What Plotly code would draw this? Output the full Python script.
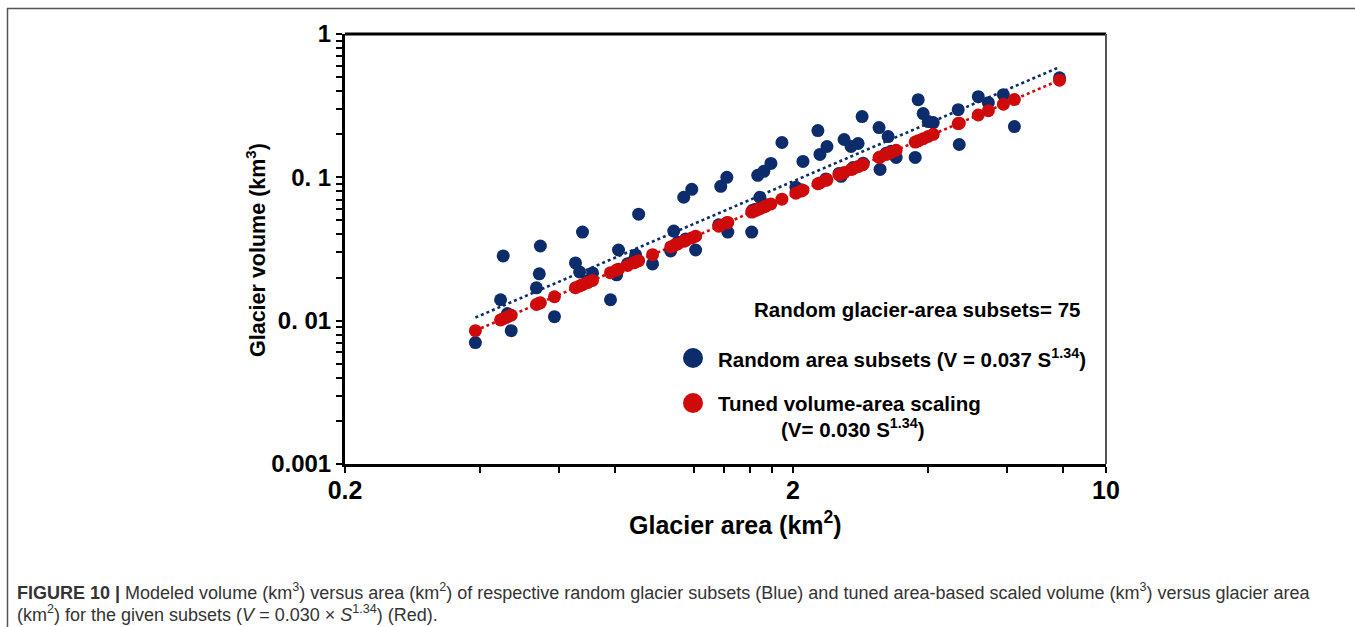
import plotly.graph_objects as go
import numpy as np

# Glacier area of each random subset (km^2)
area = [0.391, 0.445, 0.451, 0.461, 0.470, 0.535, 0.543, 0.546, 0.587, 0.654,
        0.668, 0.678, 0.696, 0.714, 0.783, 0.808, 0.816, 0.855, 0.882, 0.891,
        0.905, 0.972, 1.067, 1.084, 1.106, 1.141, 1.153, 1.189, 1.213, 1.366,
        1.380, 1.424, 1.431, 1.618, 1.627, 1.652, 1.669, 1.687, 1.722, 1.740,
        1.786, 1.890, 2.031, 2.084, 2.106, 2.274, 2.298, 2.370, 2.383, 2.535,
        2.562, 2.602, 2.697, 2.725, 2.796, 2.854, 2.869, 3.114, 3.130, 3.229,
        3.263, 3.313, 3.400, 3.750, 3.808, 3.907, 4.010, 4.114, 4.678, 4.703,
        5.187, 5.462, 5.900, 6.244, 7.874]

# Modeled volume of the random subsets (km^3)
vol_random = [0.00703, 0.01399, 0.02828, 0.0112, 0.00852, 0.01695, 0.02121, 0.03318, 0.01066, 0.02528,
              0.02189, 0.04150, 0.0190, 0.02154, 0.01399, 0.02087, 0.03112, 0.0250, 0.0262, 0.02873,
              0.05535, 0.02488, 0.03062, 0.04217, 0.0352, 0.07263, 0.0372, 0.08254, 0.03112, 0.0466,
              0.08660, 0.1000, 0.04150, 0.04150, 0.0590, 0.0600, 0.1032, 0.07263, 0.1101, 0.0645,
              0.1251, 0.1750, 0.08522, 0.0820, 0.1292, 0.2121, 0.1444, 0.0975, 0.1641, 0.1065,
              0.1016, 0.1836, 0.1641, 0.1170, 0.1722, 0.2653, 0.1255, 0.2225, 0.1136, 0.1470,
              0.1926, 0.1520, 0.1377, 0.1377, 0.3480, 0.2783, 0.2448, 0.2409, 0.2966, 0.1695,
              0.3652, 0.3318, 0.3771, 0.2260, 0.4948]

# Tuned volume-area scaled volume (km^3)
vol_tuned = [0.00851, 0.01012, 0.01033, 0.01062, 0.01092, 0.01297, 0.01324, 0.01333, 0.01469, 0.01698,
             0.01745, 0.01782, 0.01844, 0.01910, 0.02162, 0.02253, 0.02284, 0.02430, 0.02533, 0.02569,
             0.02623, 0.02888, 0.03271, 0.03340, 0.03432, 0.03579, 0.03628, 0.03781, 0.03887, 0.04556,
             0.04619, 0.04815, 0.04849, 0.05722, 0.05761, 0.05881, 0.05964, 0.06047, 0.06215, 0.06302,
             0.06523, 0.07039, 0.07751, 0.08023, 0.08135, 0.09021, 0.09146, 0.09535, 0.09603, 0.1043,
             0.1057, 0.1080, 0.1133, 0.1149, 0.1189, 0.1223, 0.1231, 0.1375, 0.1384, 0.1443,
             0.1463, 0.1493, 0.1545, 0.1762, 0.1799, 0.1862, 0.1928, 0.1996, 0.2371, 0.2388,
             0.2723, 0.2917, 0.3236, 0.3490, 0.4764]

# Power-law fits V = c * S^b
fit_random = (0.037, 1.34)
fit_tuned = (0.030, 1.34)

x_ticks = [0.2, 0.4, 0.6, 0.8, 1.2, 1.4, 1.6, 1.8, 2, 4, 6, 8, 10]
x_labels = ["0.2", "", "", "", "", "", "", "", "2", "", "", "", "10"]
y_ticks = [0.001] + [k * 0.001 for k in range(2, 10)] + [0.01] + [k * 0.01 for k in range(2, 10)] \
          + [0.1] + [k * 0.1 for k in range(2, 10)] + [1]
y_labels = ["0.001"] + [""] * 8 + ["0. 01"] + [""] * 8 + ["0. 1"] + [""] * 8 + ["1"]

NAVY = "#0c2c6c"
RED = "#cf0a0a"
BOLD = "Liberation Sans, Arial, sans-serif"

W, H = 1355, 627
L, R, T, B = 345, 1106, 34, 464


def px(x):
    return (x - L) / (R - L)


def py(y):
    return (B - y) / (B - T)


s_fit = np.array([min(area), max(area)])

fig = go.Figure()
for (c, b), col in ((fit_random, NAVY), (fit_tuned, RED)):
    fig.add_trace(go.Scatter(x=s_fit, y=c * s_fit ** b, mode="lines",
                             line=dict(color=col, width=2.6, dash="dot"),
                             hoverinfo="skip"))
fig.add_trace(go.Scatter(x=area, y=vol_random, mode="markers",
                         marker=dict(color=NAVY, size=13, line=dict(width=0))))
fig.add_trace(go.Scatter(x=area, y=vol_tuned, mode="markers",
                         marker=dict(color=RED, size=13, line=dict(width=0))))

fig.update_xaxes(type="log", range=[np.log10(0.2), 1], tickmode="array",
                 tickvals=x_ticks, ticktext=x_labels, ticks="outside", ticklen=6,
                 tickwidth=1.5, tickcolor="black", showline=True, linewidth=3,
                 linecolor="black", showgrid=False, zeroline=False, ticklabelstandoff=-4,
                 tickfont=dict(family=BOLD, size=25, color="black", weight="bold"))
fig.update_yaxes(type="log", range=[-3, 0], tickmode="array",
                 tickvals=y_ticks, ticktext=y_labels, ticks="outside", ticklen=6,
                 tickwidth=1.5, tickcolor="black", showline=True, linewidth=3,
                 linecolor="black", showgrid=False, zeroline=False,
                 tickfont=dict(family=BOLD, size=24, color="black", weight="bold"))

shapes = [
    # plot frame: top and right edges
    dict(type="line", xref="paper", yref="paper", x0=0, x1=1, y0=1, y1=1,
         line=dict(color="black", width=3)),
    dict(type="line", xref="paper", yref="paper", x0=1, x1=1, y0=0, y1=1,
         line=dict(color="#555555", width=2)),
    # outer figure box
    dict(type="line", xref="paper", yref="paper", x0=px(7), x1=px(W), y0=py(8.5), y1=py(8.5),
         line=dict(color="#555555", width=1.5)),
    dict(type="line", xref="paper", yref="paper", x0=px(7.5), x1=px(7.5), y0=py(8), y1=py(H),
         line=dict(color="#555555", width=1.5)),
]
# legend symbols
for yy, col in ((358, NAVY), (403, RED)):
    r = 10
    shapes.append(dict(type="circle", xref="paper", yref="paper",
                       x0=px(693 - r), x1=px(693 + r), y0=py(yy + r), y1=py(yy - r),
                       fillcolor=col, line=dict(width=0)))

ann = []


def text(x, y, s, size, anchor="center", weight="bold", family=BOLD, color="black", angle=0):
    ann.append(dict(x=px(x), y=py(y), xref="paper", yref="paper", text=s, showarrow=False,
                    xanchor=anchor, yanchor="middle", textangle=angle,
                    font=dict(family=family, size=size, color=color, weight=weight)))


text(917, 309, "Random glacier-area subsets= 75", 20.5)
text(716, 358, "Random area subsets (V = 0.037 S<sup>1.34</sup>)", 20.5, anchor="left")
text(716, 403, "Tuned volume-area scaling", 20.5, anchor="left")
text(853, 428, "(V= 0.030 S<sup>1.34</sup>)", 20.5)
text(735, 523, "Glacier area (km<sup>2</sup>)", 25)
text(256, 250, "Glacier volume (km<sup>3</sup>)", 21.5, angle=-90)

CAP = "Liberation Sans, Arial, sans-serif"
text(15, 591, "<b>FIGURE 10 |</b> Modeled volume (km<sup>3</sup>) versus area (km<sup>2</sup>) of respective "
     "random glacier subsets (Blue) and tuned area-based scaled volume (km<sup>3</sup>) versus glacier area",
     18, anchor="left", weight="normal", family=CAP, color="#333333")
text(15, 613, "(km<sup>2</sup>) for the given subsets (<i>V</i> = 0.030 × <i>S</i><sup>1.34</sup>) (Red).",
     18, anchor="left", weight="normal", family=CAP, color="#333333")

fig.update_layout(width=W, height=H, margin=dict(l=L, r=W - R, t=T, b=H - B),
                  paper_bgcolor="white", plot_bgcolor="white", showlegend=False,
                  shapes=shapes, annotations=ann)

fig.write_html("out.html")
